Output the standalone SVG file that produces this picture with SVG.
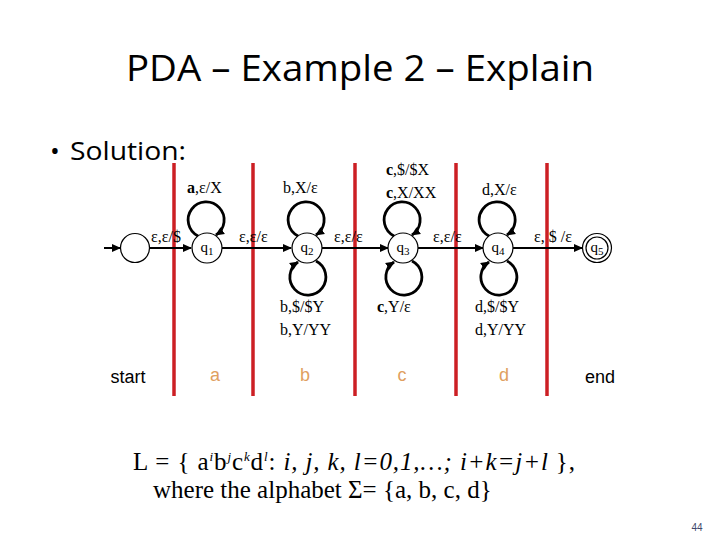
<svg xmlns="http://www.w3.org/2000/svg" width="720" height="540" viewBox="0 0 720 540">
<style>
.st{fill:#fff;stroke:#000;stroke-width:1.2}
.lb{font-family:"Liberation Serif",serif;font-size:16px;fill:#000}
.ql{font-family:"Liberation Serif",serif;font-size:15px;fill:#000;text-anchor:middle}
.ar{stroke:#000;stroke-width:2;fill:none;marker-end:url(#ah)}
.lp{stroke:#000;stroke-width:2.8;fill:none;marker-end:url(#ah)}
.rl{stroke:#cc1f24;stroke-width:3.5}
.sec{font-family:"Liberation Sans",sans-serif;font-size:18px;text-anchor:middle}
.math{font-family:"Liberation Serif",serif;font-size:25px;fill:#000}
</style>
<defs>
<marker id="ah" markerWidth="10" markerHeight="10" refX="8" refY="5" orient="auto" markerUnits="userSpaceOnUse">
<path d="M0,1 L9,5 L0,9 z" fill="#000"/>
</marker>
</defs>
<rect width="720" height="540" fill="#fff"/>
<text x="360" y="81" text-anchor="middle" font-family="'Open Sans',sans-serif" font-size="36" textLength="468" lengthAdjust="spacingAndGlyphs">PDA – Example 2 – Explain</text>
<text x="50" y="160" font-family="'Open Sans',sans-serif" font-size="26">•</text>
<text x="70" y="160" font-family="'Open Sans',sans-serif" font-size="26" textLength="116" lengthAdjust="spacingAndGlyphs">Solution:</text>

<g id="dividers">
<line class="rl" x1="174" y1="163" x2="174" y2="396"/>
<line class="rl" x1="253" y1="163" x2="253" y2="396"/>
<line class="rl" x1="355" y1="163" x2="355" y2="396"/>
<line class="rl" x1="456" y1="163" x2="456" y2="396"/>
<line class="rl" x1="547" y1="163" x2="547" y2="396"/>
</g>

<g id="connectors">
<line class="ar" x1="104" y1="248" x2="120" y2="248"/>
<line class="ar" x1="150" y1="248" x2="191" y2="248"/>
<line class="ar" x1="222" y1="248" x2="291" y2="248"/>
<line class="ar" x1="322" y1="248" x2="388" y2="248"/>
<line class="ar" x1="418" y1="248" x2="483" y2="248"/>
<line class="ar" x1="513" y1="248" x2="582" y2="248"/>
<path class="lp" d="M198,236 A18,18 0 1 1 216,235"/>
<path class="lp" d="M298,236 A18,18 0 1 1 316,235"/>
<path class="lp" d="M316,261 A18,18 0 1 1 298,262"/>
<path class="lp" d="M394,236 A18,18 0 1 1 412,235"/>
<path class="lp" d="M412,261 A18,18 0 1 1 394,262"/>
<path class="lp" d="M489,236 A18,18 0 1 1 507,235"/>
<path class="lp" d="M507,261 A18,18 0 1 1 489,262"/>
<text class="lb" x="151" y="242">ε,ε/$</text>
<text class="lb" x="187" y="193"><tspan font-weight="bold">a</tspan>,ε/X</text>
<text class="lb" x="283" y="193">b,X/ε</text>
<text class="lb" x="239" y="242">ε,ε/ε</text>
<text class="lb" x="334" y="242">ε,ε/ε</text>
<text class="lb" x="386" y="175"><tspan font-weight="bold">c</tspan>,$/$X</text>
<text class="lb" x="386" y="198"><tspan font-weight="bold">c</tspan>,X/XX</text>
<text class="lb" x="482" y="195">d,X/ε</text>
<text class="lb" x="433" y="242">ε,ε/ε</text>
<text class="lb" x="534" y="242">ε, $ /ε</text>
<text class="lb" x="280" y="312">b,$/$Y</text>
<text class="lb" x="280" y="335">b,Y/YY</text>
<text class="lb" x="377" y="312"><tspan font-weight="bold">c</tspan>,Y/ε</text>
<text class="lb" x="475" y="312">d,$/$Y</text>
<text class="lb" x="475" y="335">d,Y/YY</text>
</g>

<g id="start"><circle class="st" cx="135" cy="248" r="14.5"/></g>
<g id="q1"><circle class="st" cx="207" cy="248" r="15"/><text class="ql" x="207" y="252">q<tspan font-size="11" dy="3">1</tspan></text></g>
<g id="q2"><circle class="st" cx="307" cy="248" r="15"/><text class="ql" x="307" y="252">q<tspan font-size="11" dy="3">2</tspan></text></g>
<g id="q3"><circle class="st" cx="403" cy="248" r="15"/><text class="ql" x="403" y="252">q<tspan font-size="11" dy="3">3</tspan></text></g>
<g id="q4"><circle class="st" cx="498" cy="248" r="15"/><text class="ql" x="498" y="252">q<tspan font-size="11" dy="3">4</tspan></text></g>
<g id="q5"><circle class="st" cx="597" cy="248" r="14.5"/><circle class="st" cx="597" cy="248" r="11"/><text class="ql" x="597" y="252">q<tspan font-size="11" dy="3">5</tspan></text></g>

<g id="sections">
<text class="sec" x="128" y="383" fill="#000">start</text>
<text class="sec" x="215" y="381" fill="#e0a060">a</text>
<text class="sec" x="305" y="381" fill="#e0a060">b</text>
<text class="sec" x="402" y="381" fill="#e0a060">c</text>
<text class="sec" x="504" y="381" fill="#e0a060">d</text>
<text class="sec" x="600" y="383" fill="#000">end</text>
</g>

<text class="math" x="133" y="470" textLength="442" lengthAdjust="spacing">L = { a<tspan font-size="13" dy="-9" font-style="italic">i</tspan><tspan dy="9">b</tspan><tspan font-size="13" dy="-9" font-style="italic">j</tspan><tspan dy="9">c</tspan><tspan font-size="13" dy="-9" font-style="italic">k</tspan><tspan dy="9">d</tspan><tspan font-size="13" dy="-9" font-style="italic">l</tspan><tspan dy="9">:  </tspan><tspan font-style="italic">i, j, k, l=0,1,…;  i+k=j+l </tspan>},</text>
<text class="math" x="153" y="498">where the alphabet Σ= {a, b, c, d}</text>
<text x="697" y="531" text-anchor="middle" font-family="'Liberation Sans',sans-serif" font-size="10" fill="#40486a">44</text>
</svg>
